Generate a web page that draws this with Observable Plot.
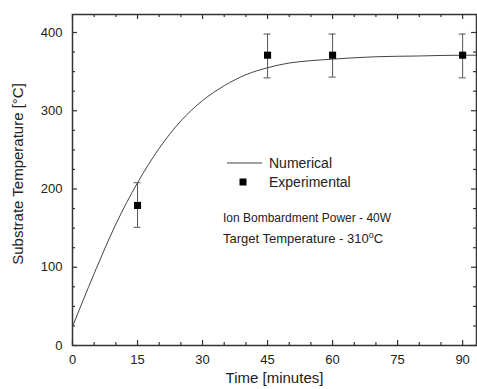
<!DOCTYPE html>
<html>
<head>
<meta charset="utf-8">
<script src="https://cdn.jsdelivr.net/npm/d3@7"></script>
<script src="https://cdn.jsdelivr.net/npm/@observablehq/plot@0.6"></script>
<style>
  html, body { margin: 0; padding: 0; background: #fff; }
  #chart svg { display: block; }
</style>
</head>
<body>
<div id="chart"></div>
<script>
// Numerical curve
const curveTime = [0, 5, 10, 15, 20, 25, 30, 35, 40, 45, 50, 55, 60, 70, 80, 90, 93];
const curveTemp = [24, 92, 155, 208, 252, 287, 313, 332, 346, 355, 361, 364, 366, 369, 370, 371, 371];

// Experimental points with error bars
const expTime = [15, 45, 60, 90];
const expTemp = [179, 371, 371, 371];
const expLow  = [151, 342, 343, 342];
const expHigh = [208, 398, 398, 398];

// Tick values
const xMajor = [0, 15, 30, 45, 60, 75, 90];
const xMinor = [5, 10, 20, 25, 35, 40, 50, 55, 65, 70, 80, 85];
const yMajor = [0, 100, 200, 300, 400];
const yMinor = [25, 50, 75, 125, 150, 175, 225, 250, 275, 325, 350, 375];

const labels = {
  x: "Time [minutes]",
  y: "Substrate Temperature [°C]",
  numerical: "Numerical",
  experimental: "Experimental",
  power: "Ion Bombardment Power - 40W",
  target: "Target Temperature - 310",
  targetSup: "o",
  targetUnit: "C"
};

const curve = curveTime.map((t, i) => ({t, v: curveTemp[i]}));
const exp = expTime.map((t, i) => ({t, v: expTemp[i], lo: expLow[i], hi: expHigh[i]}));

const W = 477, H = 389;
const mL = 72, mT = 14, mR = 1, mB = 44;
const innerW = W - mL - mR, innerH = H - mT - mB;
const font = "'Liberation Sans', Arial, Helvetica, sans-serif";
const axisColor = "#333";

const chart = Plot.plot({
  width: W,
  height: H,
  marginLeft: mL,
  marginTop: mT,
  marginRight: mR,
  marginBottom: mB,
  style: {fontFamily: font, color: "#222", background: "#fff"},
  x: {domain: [0, 93.2]},
  y: {domain: [0, 423]},
  marks: [
    // inward ticks, bottom & top
    Plot.tickX(xMajor, {x: d => d, stroke: axisColor, strokeWidth: 1.2, insetTop: innerH - 5}),
    Plot.tickX(xMinor, {x: d => d, stroke: axisColor, strokeWidth: 1.2, insetTop: innerH - 3}),
    Plot.tickX(xMajor, {x: d => d, stroke: axisColor, strokeWidth: 1.2, insetBottom: innerH - 5}),
    Plot.tickX(xMinor, {x: d => d, stroke: axisColor, strokeWidth: 1.2, insetBottom: innerH - 3}),
    // inward ticks, left & right
    Plot.tickY(yMajor, {y: d => d, stroke: axisColor, strokeWidth: 1.2, insetRight: innerW - 5}),
    Plot.tickY(yMinor, {y: d => d, stroke: axisColor, strokeWidth: 1.2, insetRight: innerW - 3}),
    Plot.tickY(yMajor, {y: d => d, stroke: axisColor, strokeWidth: 1.2, insetLeft: innerW - 5}),
    Plot.tickY(yMinor, {y: d => d, stroke: axisColor, strokeWidth: 1.2, insetLeft: innerW - 3}),
    Plot.axisX({ticks: xMajor, tickSize: 0, tickPadding: 9, fontSize: 13, label: null, fill: "#222"}),
    Plot.axisY({ticks: yMajor, tickSize: 0, tickPadding: 10, fontSize: 13, label: null, fill: "#222"}),
    Plot.frame({stroke: axisColor, strokeWidth: 1.5}),
    // numerical curve
    Plot.line(curve, {x: "t", y: "v", curve: "monotone-x", stroke: "#444", strokeWidth: 1}),
    // error bars
    Plot.ruleX(exp, {x: "t", y1: "lo", y2: "hi", stroke: "#555", strokeWidth: 1}),
    Plot.ruleY(exp, {y: "hi", x1: "t", x2: "t", insetLeft: -3.5, insetRight: -3.5, stroke: "#555", strokeWidth: 1}),
    Plot.ruleY(exp, {y: "lo", x1: "t", x2: "t", insetLeft: -3.5, insetRight: -3.5, stroke: "#555", strokeWidth: 1}),
    Plot.dot(exp, {x: "t", y: "v", symbol: "square", r: 4, fill: "#000", stroke: "none"}),
    // x axis title
    Plot.text([labels.x], {frameAnchor: "bottom", dy: 37, fontSize: 15, fill: "#222"})
  ]
});

document.getElementById("chart").appendChild(chart);

// Y title, legend and annotations
const svg = d3.select(chart);
svg.append("text")
  .attr("transform", "translate(18,174) rotate(-90)")
  .attr("text-anchor", "middle").attr("dy", "0.35em")
  .attr("font-family", font).attr("font-size", 15).attr("fill", "#222")
  .text(labels.y);

const g = svg.append("g").attr("font-family", font).attr("fill", "#222").attr("text-anchor", "start");
g.append("line").attr("x1", 227).attr("x2", 262).attr("y1", 163).attr("y2", 163)
  .attr("stroke", "#444").attr("stroke-width", 1);
g.append("text").attr("x", 269).attr("y", 163).attr("dy", "0.35em").attr("font-size", 14).text(labels.numerical);
g.append("rect").attr("x", 239.5).attr("y", 178.5).attr("width", 7).attr("height", 7).attr("fill", "#000");
g.append("text").attr("x", 269).attr("y", 182).attr("dy", "0.35em").attr("font-size", 14).text(labels.experimental);
g.append("text").attr("x", 223).attr("y", 218).attr("dy", "0.35em").attr("font-size", 12).text(labels.power);
const t = g.append("text").attr("x", 223).attr("y", 242.5).attr("font-size", 13);
t.append("tspan").text(labels.target);
t.append("tspan").attr("font-size", 9).attr("dy", -5).text(labels.targetSup);
t.append("tspan").attr("dy", 5).text(labels.targetUnit);
</script>
</body>
</html>
